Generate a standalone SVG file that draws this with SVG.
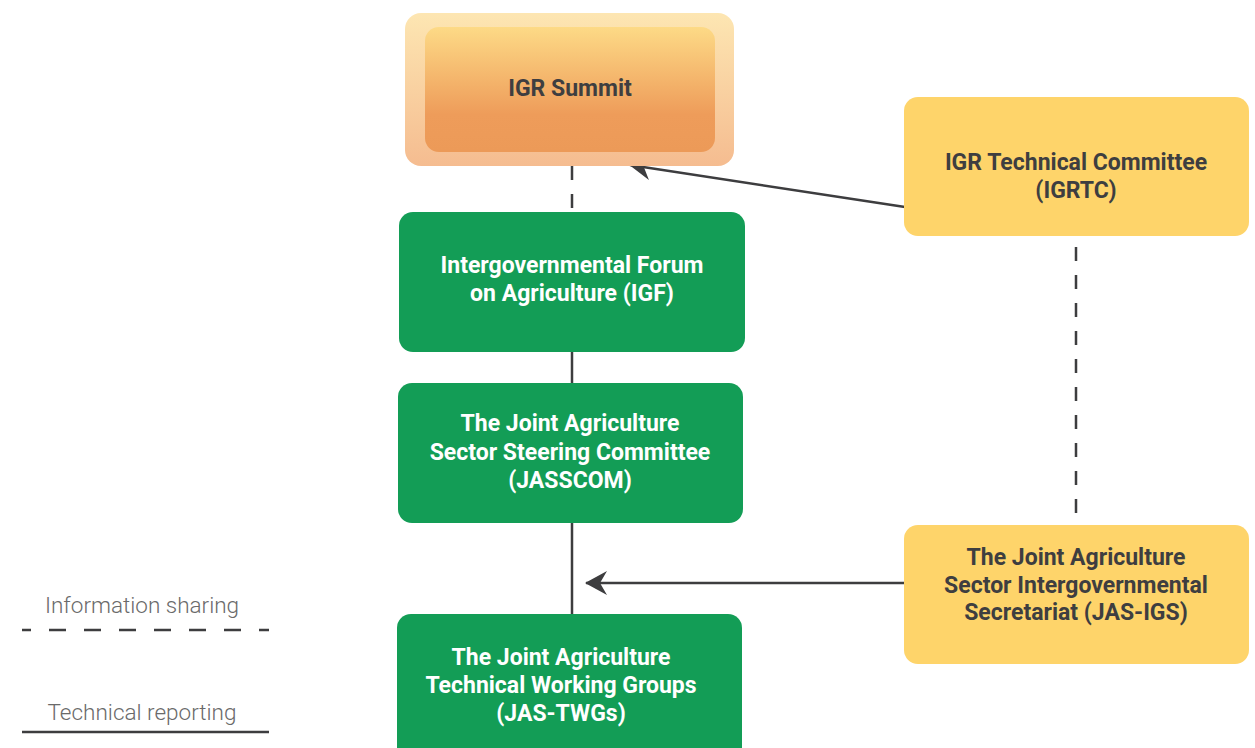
<svg xmlns="http://www.w3.org/2000/svg" width="1255" height="748" viewBox="0 0 1255 748">
  <defs>
    <linearGradient id="summitOuter" x1="0" y1="0" x2="0" y2="1">
      <stop offset="0" stop-color="#fde6b2"/>
      <stop offset="1" stop-color="#f5bc90"/>
    </linearGradient>
    <linearGradient id="summitInner" x1="0" y1="0" x2="0" y2="1">
      <stop offset="0" stop-color="#fdda86"/>
      <stop offset="0.7" stop-color="#ee9c5a"/>
      <stop offset="1" stop-color="#ec9a58"/>
    </linearGradient>
    <marker id="arrow" viewBox="0 0 22 24" refX="21" refY="12" markerWidth="22" markerHeight="24" markerUnits="userSpaceOnUse" orient="auto">
      <path d="M22,12 L0,0 L7,12 L0,24 Z" fill="#3d3d3f"/>
    </marker>
  </defs>
  <style>
    .green { fill: #139d56; }
    .yellow { fill: #fed46a; }
    .lbl-w { font-family: Roboto, "Liberation Sans", sans-serif; font-weight: bold; font-size: 23px; fill: #ffffff; text-anchor: middle; }
    .lbl-d { font-family: Roboto, "Liberation Sans", sans-serif; font-weight: bold; font-size: 23px; fill: #3e3e40; text-anchor: middle; }
    .legend { font-family: Roboto, "Liberation Sans", sans-serif; font-weight: 300; font-size: 22.5px; fill: #6a6a6a; text-anchor: middle; }
    .solid { stroke: #3d3d3f; stroke-width: 2.5; fill: none; }
    .dash { stroke: #3d3d3f; stroke-width: 2.5; fill: none; stroke-dasharray: 14 14; }
  </style>

  <!-- connectors -->
  <g id="connectors">
    <line class="dash" x1="572" y1="166" x2="572" y2="212"/>
    <line class="solid" x1="572" y1="352" x2="572" y2="383"/>
    <line class="solid" x1="572" y1="523" x2="572" y2="614"/>
    <line class="dash" x1="1076" y1="247" x2="1076" y2="525"/>
    <line class="solid" x1="905" y1="207" x2="630" y2="165" marker-end="url(#arrow)"/>
    <line class="solid" x1="904" y1="583" x2="586" y2="583" marker-end="url(#arrow)"/>
  </g>

  <g id="igr-summit">
    <rect x="405" y="13" width="329" height="153" rx="16" fill="url(#summitOuter)"/>
    <rect x="425" y="27" width="290" height="125" rx="14" fill="url(#summitInner)"/>
    <text class="lbl-d" x="570" y="96">IGR Summit</text>
  </g>

  <g id="igrtc">
    <rect class="yellow" x="904" y="97" width="345" height="139" rx="14"/>
    <text class="lbl-d" x="1076" y="170">IGR Technical Committee</text>
    <text class="lbl-d" x="1076" y="198">(IGRTC)</text>
  </g>

  <g id="igf">
    <rect class="green" x="399" y="212" width="346" height="140" rx="14"/>
    <text class="lbl-w" x="572" y="273">Intergovernmental Forum</text>
    <text class="lbl-w" x="572" y="301">on Agriculture (IGF)</text>
  </g>

  <g id="jasscom">
    <rect class="green" x="398" y="383" width="345" height="140" rx="14"/>
    <text class="lbl-w" x="570" y="431">The Joint Agriculture</text>
    <text class="lbl-w" x="570" y="460">Sector Steering Committee</text>
    <text class="lbl-w" x="570" y="488">(JASSCOM)</text>
  </g>

  <g id="jas-igs">
    <rect class="yellow" x="904" y="525" width="345" height="139" rx="14"/>
    <text class="lbl-d" x="1076" y="565">The Joint Agriculture</text>
    <text class="lbl-d" x="1076" y="593">Sector Intergovernmental</text>
    <text class="lbl-d" x="1076" y="620">Secretariat (JAS-IGS)</text>
  </g>

  <g id="jas-twgs">
    <rect class="green" x="397" y="614" width="345" height="150" rx="14"/>
    <text class="lbl-w" x="561" y="665">The Joint Agriculture</text>
    <text class="lbl-w" x="561" y="693">Technical Working Groups</text>
    <text class="lbl-w" x="561" y="721">(JAS-TWGs)</text>
  </g>

  <g id="legend">
    <text class="legend" x="142" y="613">Information sharing</text>
    <line class="solid" x1="22" y1="630" x2="269" y2="630" stroke-dasharray="17 18" stroke-dashoffset="8"/>
    <text class="legend" x="142" y="720">Technical reporting</text>
    <line class="solid" x1="22" y1="732" x2="269" y2="732"/>
  </g>
</svg>
